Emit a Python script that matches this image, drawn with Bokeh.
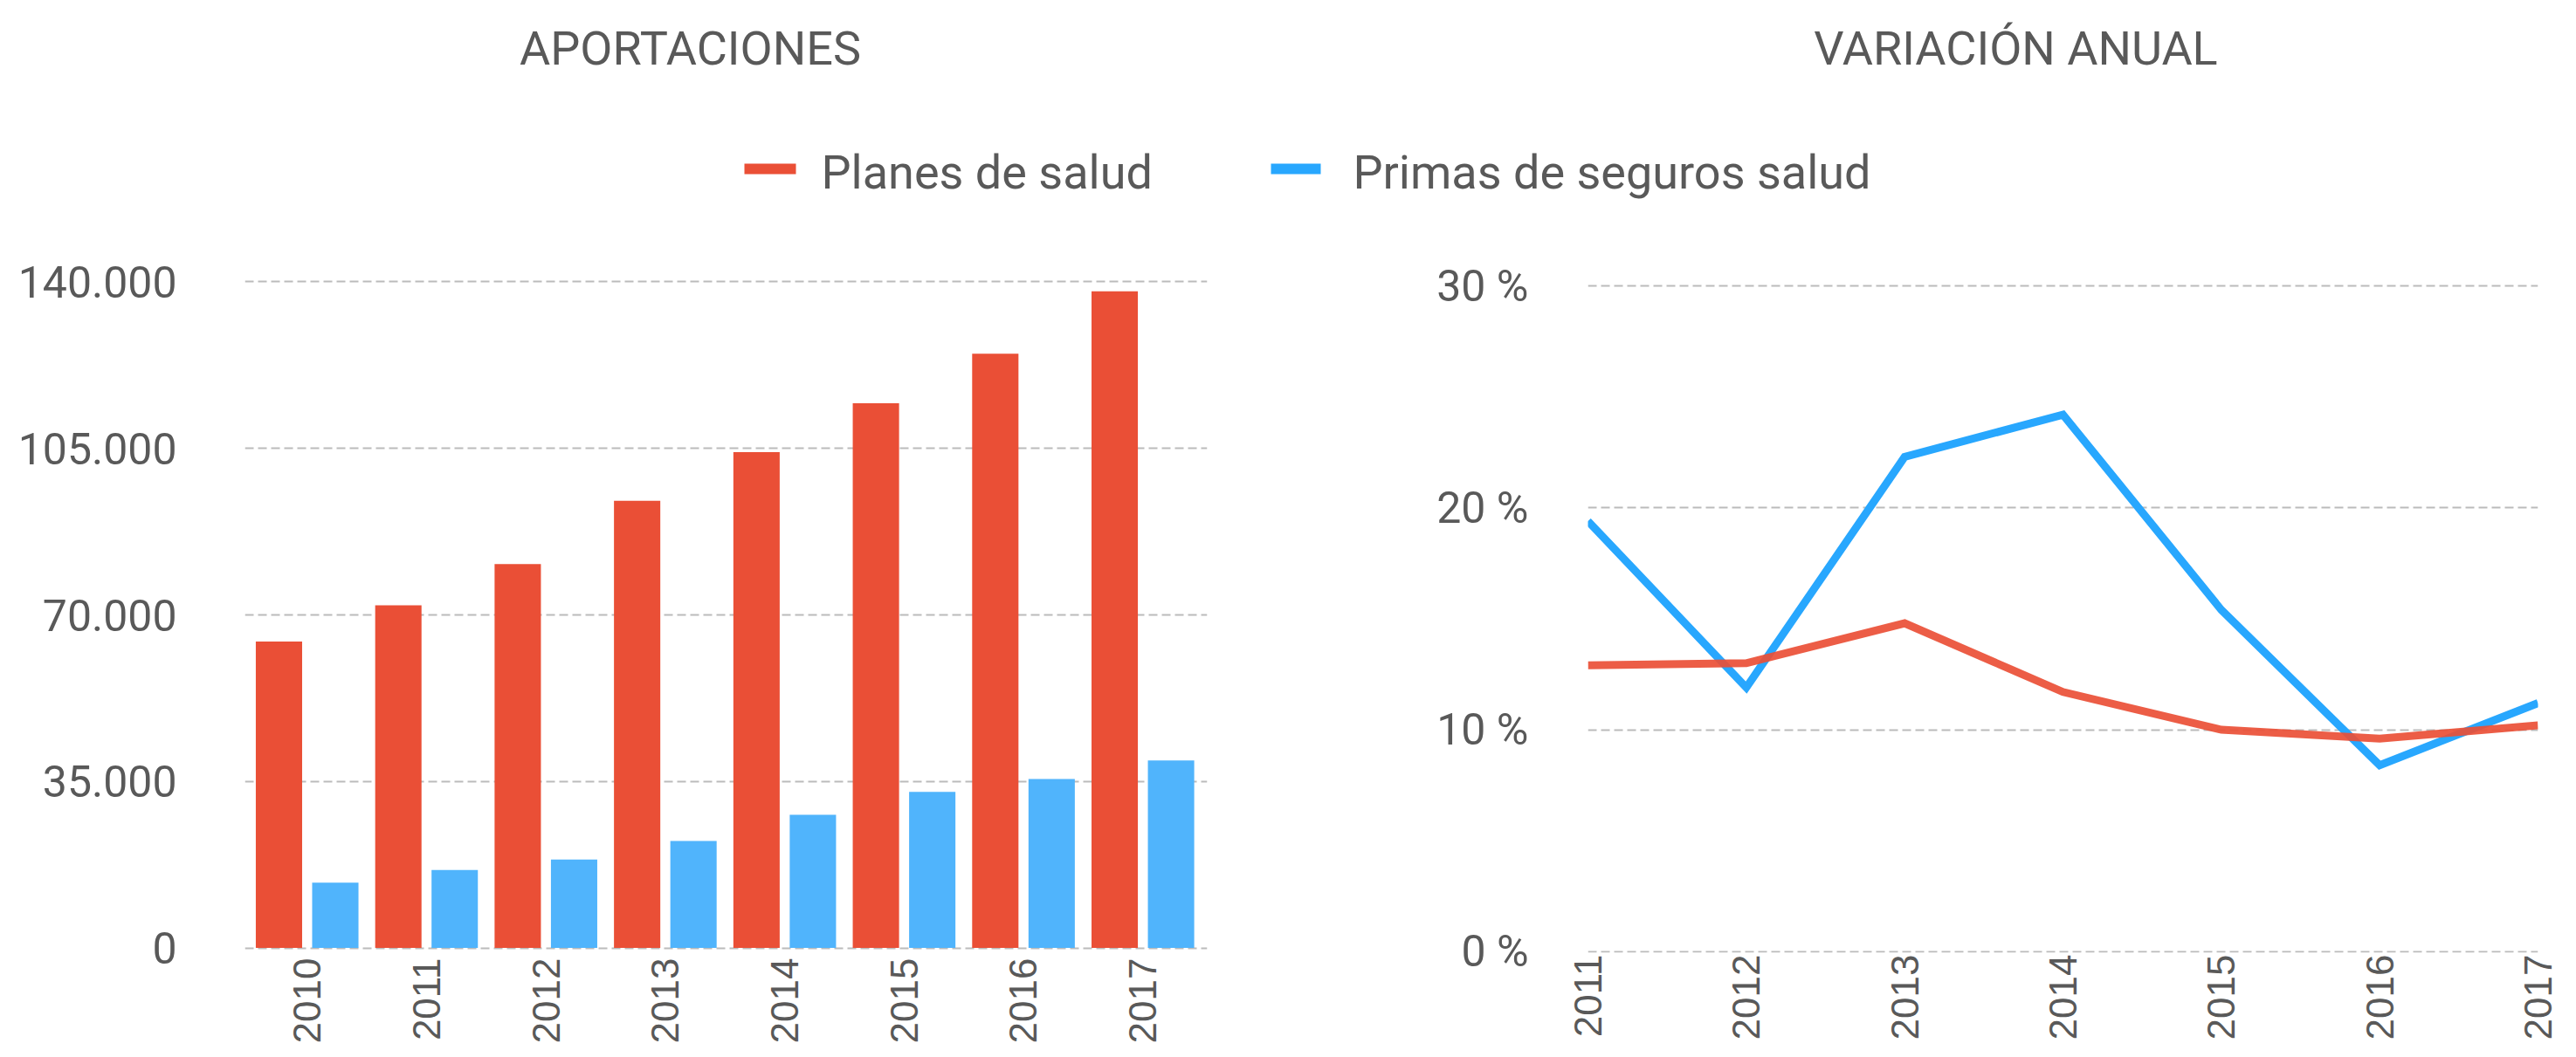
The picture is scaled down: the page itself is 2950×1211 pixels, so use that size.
from math import pi
from bokeh.plotting import figure
from bokeh.layouts import column, row
from bokeh.models import Range1d, FixedTicker, Label, BoxAnnotation, ColumnDataSource
from bokeh.transform import dodge
from bokeh.embed import file_html
from bokeh.resources import INLINE

# ---------------- data ----------------
years = [2010, 2011, 2012, 2013, 2014, 2015, 2016, 2017]
planes_salud = [64400, 72000, 80700, 94000, 104200, 114500, 124900, 138000]
primas_seguros = [13700, 16400, 18600, 22500, 28000, 32800, 35500, 39400]

var_years = [2011, 2012, 2013, 2014, 2015, 2016, 2017]
var_planes = [12.9, 13.0, 14.8, 11.7, 10.0, 9.6, 10.2]
var_primas = [19.4, 11.9, 22.3, 24.2, 15.4, 8.4, 11.2]

y_ticks_left = [0, 35000, 70000, 105000, 140000]
y_labels_left = ["0", "35.000", "70.000", "105.000", "140.000"]
y_ticks_right = [0, 10, 20, 30]
y_labels_right = ["0 %", "10 %", "20 %", "30 %"]

series_names = ["Planes de salud", "Primas de seguros salud"]
titles = ["APORTACIONES", "VARIACIÓN ANUAL"]

# ---------------- style ----------------
RED = "#EA4F36"
BLUE_BAR = "#50B4FC"
BLUE_LINE = "#28A7FE"
TEXT = "#595959"
GRID = "#BBBBBB"
DIN = "Roboto"

# ---------------- header (titles + legend) ----------------
# header coordinates are pixels, y measured upward from the header bottom
header = figure(width=2934, height=250, x_range=Range1d(0, 2934), y_range=Range1d(0, 250),
                x_axis_type=None, y_axis_type=None, toolbar_location=None,
                output_backend="svg", min_border=0, outline_line_color=None)
header.grid.visible = False

for txt, cx in zip(titles, [790, 2308]):
    header.add_layout(Label(x=cx, y=195, text=txt, text_align="center",
                            text_baseline="alphabetic", text_line_height=1.0,
                            text_font=DIN, text_font_size="54px", text_color=TEXT))

# legend drawn as swatches + labels
legend_swatches = [(852, 911, RED), (1455, 1512, BLUE_LINE)]
legend_text_x = [940, 1549]
for (l, r, c), tx, name in zip(legend_swatches, legend_text_x, series_names):
    header.add_layout(BoxAnnotation(left=l, right=r, bottom=51, top=63,
                                    fill_color=c, fill_alpha=1.0, line_color=None))
    header.add_layout(Label(x=tx, y=53, text=name, text_align="left",
                            text_baseline="alphabetic", text_line_height=1.0,
                            text_font=DIN, text_font_size="54px", text_color=TEXT))

# ---------------- left: bars ----------------
src = ColumnDataSource(dict(year=years, planes=planes_salud, primas=primas_seguros))

left = figure(frame_width=1102, frame_height=774,
              x_range=Range1d(2010 - 0.52, 2017 + 0.54), y_range=Range1d(-1000, 141000),
              toolbar_location=None, output_backend="svg",
              min_border_left=280, min_border_right=110,
              min_border_top=62, min_border_bottom=108,
              outline_line_color=None)
left.vbar(x=dodge("year", -0.235), top="planes", width=0.388, source=src,
          fill_color=RED, line_color=None)
left.vbar(x=dodge("year", 0.237), top="primas", width=0.388, source=src,
          fill_color=BLUE_BAR, line_color=None)

# ---------------- right: lines ----------------
right = figure(frame_width=1088, frame_height=774,
               x_range=Range1d(2011, 2017), y_range=Range1d(-0.05, 30.4),
               toolbar_location=None, output_backend="svg",
               min_border_left=326, min_border_right=28,
               min_border_top=67, min_border_bottom=103,
               outline_line_color=None)
right.line(var_years, var_primas, line_color=BLUE_LINE, line_width=9, line_join="miter")
right.line(var_years, var_planes, line_color=RED, line_width=9, line_join="miter",
           line_alpha=0.92)

# ---------------- axes / grids ----------------
for p, yt, yl, xt, ystand, xstand in [
        (left, y_ticks_left, y_labels_left, years, 78, 6),
        (right, y_ticks_right, y_labels_right, var_years, 68, 2)]:
    p.yaxis.ticker = FixedTicker(ticks=yt)
    p.yaxis.major_label_overrides = dict(zip(yt, yl))
    p.xaxis.ticker = FixedTicker(ticks=xt)
    p.xaxis.major_label_overrides = {y: str(y) for y in xt}
    for ax in (p.xaxis, p.yaxis):
        ax.axis_line_color = None
        ax.major_tick_line_color = None
        ax.minor_tick_line_color = None
        ax.major_tick_out = 0
        ax.major_tick_in = 0
        ax.major_label_text_color = TEXT
    p.yaxis.major_label_text_font = DIN
    p.yaxis.major_label_text_font_size = "50px"
    p.yaxis.major_label_standoff = ystand
    p.xaxis.major_label_text_font = "Liberation Sans"
    p.xaxis.major_label_text_font_size = "44px"
    p.xaxis.major_label_orientation = pi / 2
    p.xaxis.major_label_standoff = xstand
    p.xgrid.visible = False
    p.ygrid.ticker = FixedTicker(ticks=yt)
    p.ygrid.grid_line_color = GRID
    p.ygrid.grid_line_width = 2
    p.ygrid.grid_line_dash = "10 5"

layout = column(header, row(left, right))
open("out.html", "w").write(file_html(layout, INLINE))
